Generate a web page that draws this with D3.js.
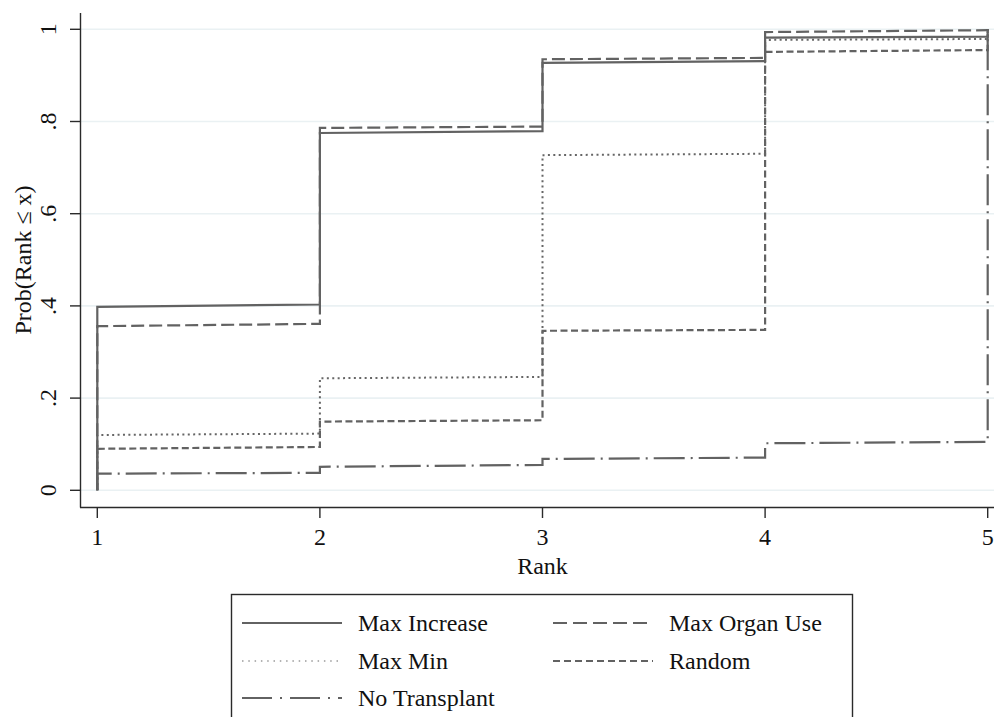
<!DOCTYPE html>
<html>
<head>
<meta charset="utf-8">
<script src="https://cdn.jsdelivr.net/npm/d3@7"></script>
<style>
    body { margin: 0; background: #fff; }
    svg { display: block; font-family: "Liberation Serif", "Times New Roman", serif; }
</style>
</head>
<body>
<div id="chart"></div>
<script>
//Ranks on the x axis
var ranks = [1, 2, 3, 4, 5];
var yTicks = [0, 0.2, 0.4, 0.6, 0.8, 1];
var yTickLabels = ["0", ".2", ".4", ".6", ".8", "1"];

//CDF values per interval: [value at left rank, value at right rank]
var maxIncrease = [[0.398, 0.403], [0.775, 0.779], [0.927, 0.931], [0.982, 0.984]];
var maxOrganUse = [[0.356, 0.361], [0.786, 0.789], [0.935, 0.938], [0.994, 0.998]];
var maxMin = [[0.120, 0.123], [0.243, 0.246], [0.727, 0.730], [0.977, 0.979]];
var randomAlloc = [[0.090, 0.094], [0.149, 0.152], [0.346, 0.348], [0.951, 0.955]];
var noTransplant = [[0.036, 0.038], [0.051, 0.055], [0.068, 0.071], [0.102, 0.105]];

var seriesNames = ["Max Increase", "Max Organ Use", "Max Min", "Random", "No Transplant"];

var width = 994, height = 717;
var lineColor = "#626262";

var svg = d3.select("#chart").append("svg")
    .attr("width", width)
    .attr("height", height);

var x = d3.scaleLinear().domain([1, 5]).range([97.3, 987.7]);
var y = d3.scaleLinear().domain([0, 1]).range([490.3, 29.3]);

//Gridlines
svg.append("g").selectAll("line")
    .data(yTicks)
    .enter().append("line")
    .attr("x1", 81).attr("x2", width)
    .attr("y1", function(d) { return y(d); })
    .attr("y2", function(d) { return y(d); })
    .attr("stroke", "#eaf1f3")
    .attr("stroke-width", 1.6);

//Series styles
var styles = [
    { data: maxIncrease, dash: null, w: 2.2, color: lineColor },
    { data: maxOrganUse, dash: "13,5", w: 2.2, color: lineColor },
    { data: maxMin, dash: "2,3.4", w: 2, color: "#666" },
    { data: randomAlloc, dash: "7,3.5", w: 2.2, color: lineColor },
    { data: noTransplant, dash: "31,6,2,6", w: 2.2, color: lineColor }
];

//Build the stair points from a series
function stairPoints(data) {
    var pts = [[ranks[0], 0]];
    data.forEach(function(seg, i) {
        pts.push([ranks[i], seg[0]]);
        pts.push([ranks[i + 1], seg[1]]);
    });
    pts.push([ranks[ranks.length - 1], 1]);
    return pts;
}

var line = d3.line()
    .x(function(d) { return x(d[0]); })
    .y(function(d) { return y(d[1]); });

//Draw in reverse so solid line is on top
styles.slice().reverse().forEach(function(s) {
    svg.append("path")
        .attr("d", line(stairPoints(s.data)))
        .attr("fill", "none")
        .attr("stroke", s.color)
        .attr("stroke-width", s.w)
        .attr("stroke-dasharray", s.dash);
});

//Axes
var axisColor = "#2a2a2a";
svg.append("line")
    .attr("x1", 80.5).attr("x2", 80.5)
    .attr("y1", 13).attr("y2", 507.5)
    .attr("stroke", axisColor).attr("stroke-width", 1.4);
svg.append("line")
    .attr("x1", 80).attr("x2", width)
    .attr("y1", 507.5).attr("y2", 507.5)
    .attr("stroke", axisColor).attr("stroke-width", 1.4);

var yt = svg.append("g").selectAll("g")
    .data(yTicks)
    .enter().append("g");
yt.append("line")
    .attr("x1", 70).attr("x2", 80.5)
    .attr("y1", function(d) { return y(d); })
    .attr("y2", function(d) { return y(d); })
    .attr("stroke", axisColor).attr("stroke-width", 1.4);
yt.append("text")
    .attr("transform", function(d) { return "translate(56," + y(d) + ") rotate(-90)"; })
    .style("text-anchor", "middle")
    .style("font-size", "24px")
    .style("fill", "#111")
    .text(function(d, i) { return yTickLabels[i]; });

var xt = svg.append("g").selectAll("g")
    .data(ranks)
    .enter().append("g");
xt.append("line")
    .attr("x1", function(d) { return x(d); })
    .attr("x2", function(d) { return x(d); })
    .attr("y1", 507.5).attr("y2", 518)
    .attr("stroke", axisColor).attr("stroke-width", 1.4);
xt.append("text")
    .attr("x", function(d) { return x(d); })
    .attr("y", 545)
    .style("text-anchor", "middle")
    .style("font-size", "24px")
    .style("fill", "#111")
    .text(function(d) { return d; });

//Axis titles
svg.append("text")
    .attr("x", x(3)).attr("y", 574)
    .style("text-anchor", "middle")
    .style("font-size", "24px")
    .style("fill", "#111")
    .text("Rank");
svg.append("text")
    .attr("transform", "translate(31,260) rotate(-90)")
    .style("text-anchor", "middle")
    .style("font-size", "24px")
    .style("fill", "#111")
    .text("Prob(Rank \u2264 x)");

//Legend
var legend = svg.append("g");
legend.append("rect")
    .attr("x", 231.5).attr("y", 594.5)
    .attr("width", 621).attr("height", 130)
    .attr("fill", "#fff")
    .attr("stroke", axisColor).attr("stroke-width", 1.4);

var legendDash = [null, "14,6", "1.5,4.8", "7,4", "30,8,2,8"];
var legendPos = [[242, 623], [553, 623], [242, 661], [553, 661], [242, 698]];

seriesNames.forEach(function(name, i) {
    var p = legendPos[i];
    legend.append("line")
        .attr("x1", p[0]).attr("x2", p[0] + 100)
        .attr("y1", p[1]).attr("y2", p[1])
        .attr("stroke", i === 2 ? "#9a9a9a" : lineColor)
        .attr("stroke-width", i === 2 ? 1.5 : 2.2)
        .attr("stroke-dasharray", legendDash[i]);
    legend.append("text")
        .attr("x", p[0] + 116).attr("y", p[1] + 8)
        .style("font-size", "24px")
        .style("fill", "#111")
        .text(name);
});
</script>
</body>
</html>
